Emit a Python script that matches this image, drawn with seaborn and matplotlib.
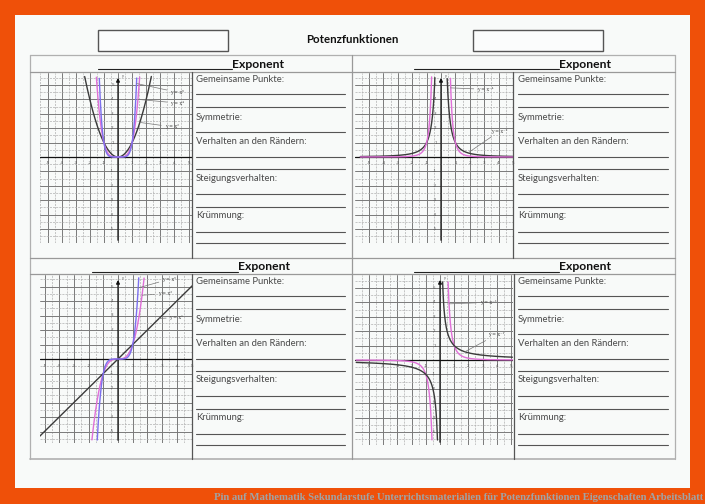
import numpy as np
import pandas as pd
import matplotlib
matplotlib.use("Agg")
import matplotlib.pyplot as plt
import seaborn as sns
from matplotlib.lines import Line2D
from matplotlib.patches import Rectangle

sns.set_style("white")
plt.rcParams['font.family'] = ['Lato', 'DejaVu Sans']

W, H = 705, 504

# ---------------- data ----------------
sheet_title = "Potenzfunktionen"
header_word = "Exponent"
prompts = ["Gemeinsame Punkte:", "Symmetrie:", "Verhalten an den Rändern:",
           "Steigungsverhalten:", "Krümmung:"]
tick_values = [-5, -4, -3, -2, -1, 1, 2, 3, 4, 5]
caption = ("Pin auf Mathematik Sekundarstufe Unterrichtsmaterialien für "
           "Potenzfunktionen Eigenschaften Arbeitsblatt")

exps_tl = [2, 4, 6]
labels_tl = ["y = x²", "y = x⁴", "y = x⁶"]
exps_tr = [-2, -4]
labels_tr = ["y = x⁻²", "y = x⁻⁴"]
exps_bl = [1, 3, 5]
labels_bl = ["y = x¹", "y = x³", "y = x⁵"]
exps_br = [-1, -3]
labels_br = ["y = x⁻¹", "y = x⁻³"]

# label anchor (text position, leader end) in data units
annot_tl = [((3.3, 2.1), (1.55, 2.4)), ((3.7, 3.75), (1.42, 4.0)), ((3.7, 4.5), (1.33, 5.1))]
annot_tr = [((3.5, 1.8), (1.9, 0.3)), ((2.5, 4.7), (0.67, 4.8))]
annot_bl = [((3.5, 2.85), (2.8, 2.8)), ((2.7, 4.5), (1.65, 4.4)), ((3.0, 5.5), (1.37, 4.9))]
annot_br = [((3.4, 1.75), (1.75, 0.57)), ((2.8, 4.0), (0.64, 3.9))]

curve_colors = {"base": "#3a3a3a", "pink": "#e070d8", "blue": "#7c70ee"}

# ---------------- figure ----------------
fig = plt.figure(figsize=(W / 100, H / 100), dpi=100)
fig.patch.set_facecolor("#ef5009")


def fx(x):
    return x / W


def fy(y):
    return 1 - y / H


def line(x0, y0, x1, y1, **kw):
    fig.add_artist(Line2D([fx(x0), fx(x1)], [fy(y0), fy(y1)],
                          transform=fig.transFigure, **kw))


# page
fig.add_artist(Rectangle((fx(15), fy(488)), 675 / W, 473 / H,
                         transform=fig.transFigure, facecolor="#f8faf9",
                         edgecolor="none", zorder=0))

# title + boxes
fig.text(fx(352), fy(40), sheet_title, ha="center", va="center",
         fontsize=8.3, fontweight="bold", color="#111")
for bx in (98, 473):
    fig.add_artist(Rectangle((fx(bx), fy(51)), 130 / W, 21 / H,
                             transform=fig.transFigure, facecolor="#fbfcfc",
                             edgecolor="#555", lw=1.0))

# table frame
tcol = "#b0b0b0"
line(30, 55, 675, 55, color=tcol, lw=0.9)
line(30, 459, 675, 459, color=tcol, lw=1.2)
line(30, 55, 30, 459, color=tcol, lw=0.9)
line(675, 55, 675, 459, color=tcol, lw=0.9)
line(352, 55, 352, 459, color="#999", lw=0.9)
line(30, 258, 675, 258, color="#999", lw=0.9)
line(30, 72, 675, 72, color="#999", lw=0.9)
line(30, 274, 675, 274, color="#999", lw=0.9)
for dx, (ya, yb) in [(192, (72, 258)), (513, (72, 258)),
                     (192, (274, 459)), (514, (274, 459))]:
    line(dx, ya, dx, yb, color="#555", lw=0.9)

# headers
for ux0, ux1, uy, ty in [(98, 232, 69, 64), (414, 559, 69, 64),
                         (92, 238, 272, 267), (414, 559, 272, 267)]:
    line(ux0, uy, ux1, uy, color="#222", lw=0.8)
    fig.text(fx(ux1), fy(ty), header_word, ha="left", va="center",
             fontsize=8.7, fontweight="bold", color="#111")

# prompts and answer lines
offs_text = [79, 117, 141, 178, 216]
offs_lines = [[94, 107], [132], [157, 169], [194, 207], [232, 243]]
for (tx0, tx1, dy) in [(196, 345, 0), (518, 668, 0), (196, 345, 202), (518, 668, 202)]:
    for p, ty, lys in zip(prompts, offs_text, offs_lines):
        fig.text(fx(tx0), fy(ty + dy), p, ha="left", va="center",
                 fontsize=6.8, color="#4a4a4a")
        for ly in lys:
            line(tx0, ly + dy, tx1, ly + dy, color="#555", lw=0.8)

# caption
fig.text(fx(703), fy(497), caption, ha="right", va="center",
         fontsize=7.7, color="#a0a4a6", family="Liberation Serif",
         fontweight="bold")


# ---------------- graphs ----------------
def panel(box, origin, unit, exps, labels, colors, annots, xrng):
    x0, y0, x1, y1 = box
    ox, oy = origin
    ux, uy = unit
    ax = fig.add_axes([fx(x0), fy(y1), (x1 - x0) / W, (y1 - y0) / H])
    xl = ((x0 - ox) / ux, (x1 - ox) / ux)
    yl = ((oy - y1) / uy, (oy - y0) / uy)
    ax.set_xlim(xl)
    ax.set_ylim(yl)
    ax.axis("off")
    # graph paper
    for v in np.arange(np.ceil(xl[0] * 2) / 2, xl[1], 0.5):
        maj = float(v).is_integer()
        ax.axvline(v, color="#7a7a7a" if maj else "#b0b0b0",
                   lw=0.7 if maj else 0.5, ls="-" if maj else (0, (3, 1.5)), zorder=1)
    for v in np.arange(np.ceil(yl[0] * 2) / 2, yl[1], 0.5):
        maj = float(v).is_integer()
        ax.axhline(v, color="#7a7a7a" if maj else "#b0b0b0",
                   lw=0.7 if maj else 0.5, ls="-" if maj else (0, (3, 1.5)), zorder=1)
    # axes
    ax.axhline(0, color="#111", lw=0.9, zorder=2)
    ax.annotate("", xy=(0, yl[1] - 0.15), xytext=(0, yl[0]),
                arrowprops=dict(arrowstyle="-|>", lw=0.9, color="#111",
                                mutation_scale=5), zorder=2)
    for t in tick_values:
        ax.text(t, -0.45, str(t), ha="center", va="center", fontsize=3.0,
                color="#555", family="DejaVu Sans", zorder=2)
        ax.text(-0.3, t, str(t), ha="right", va="center", fontsize=3.0,
                color="#555", family="DejaVu Sans", zorder=2)
    ax.text(0.25, yl[1] - 0.3, "y", fontsize=2.8, color="#555", zorder=2)
    # curves
    rows = []
    xs = np.linspace(xrng[0], xrng[1], 1601)
    for n, lab in zip(exps, labels):
        for sgn in (-1, 1):
            xb = xs[(xs * sgn) > 0.02]
            yb = xb.astype(float) ** n
            keep = np.abs(yb) <= 5.6
            for xv, yv in zip(xb[keep], yb[keep]):
                rows.append({"x": xv, "y": yv, "curve": lab, "branch": f"{lab}{sgn}"})
        if n > 0:
            rows.append({"x": 0.0, "y": 0.0, "curve": lab, "branch": f"{lab}1"})
    df = pd.DataFrame(rows).sort_values(["branch", "x"])
    pal = dict(zip(labels, colors))
    sns.lineplot(data=df, x="x", y="y", hue="curve", units="branch",
                 estimator=None, sort=True, palette=pal, legend=False,
                 ax=ax, linewidth=1.0, zorder=3)
    # labels with leaders
    for lab, ((tx, ty), (lx, ly)) in zip(labels, annots):
        ax.annotate(lab, xy=(lx, ly), xytext=(tx, ty), fontsize=3.3,
                    family="DejaVu Serif", color="#444", ha="left", va="center",
                    arrowprops=dict(arrowstyle="-", color="#777", lw=0.5,
                                    shrinkA=0, shrinkB=0), zorder=4)
    return ax


panel((40, 73, 192, 243), (118, 157), (14.1, 14.4), exps_tl, labels_tl,
      [curve_colors["base"], curve_colors["pink"], curve_colors["blue"]],
      annot_tl, (-5.5, 5.2))
panel((355, 73, 513, 243), (441, 157), (14.4, 14.4), exps_tr, labels_tr,
      [curve_colors["base"], curve_colors["pink"]], annot_tr, (-5.6, 5.0))
panel((40, 275, 192, 443), (118, 359), (14.7, 14.5), exps_bl, labels_bl,
      [curve_colors["base"], curve_colors["pink"], curve_colors["blue"]],
      annot_bl, (-5.4, 5.15))
panel((355, 275, 513, 445), (440, 360), (14.2, 14.4), exps_br, labels_br,
      [curve_colors["base"], curve_colors["pink"]], annot_br, (-5.9, 5.1))

fig.savefig("out.png", dpi=100, facecolor=fig.get_facecolor())
